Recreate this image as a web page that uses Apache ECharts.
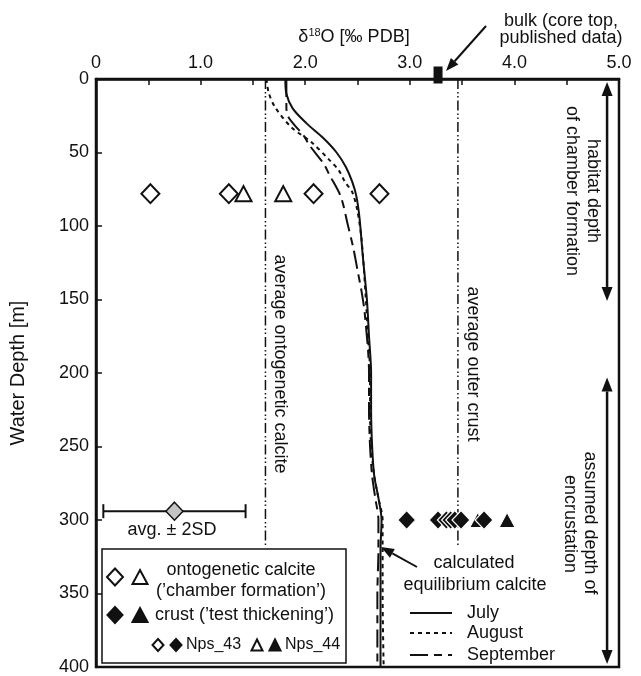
<!DOCTYPE html>
<html>
<head>
<meta charset="utf-8">
<script src="https://cdn.jsdelivr.net/npm/echarts@6/dist/echarts.min.js"></script>
<style>
  html, body { margin: 0; padding: 0; background: #fff; }
  #chart { width: 641px; height: 676px; }
</style>
</head>
<body>
<div id="chart"></div>
<script>
// calculated equilibrium calcite, depth [m] vs d18O
const julyDepth = [0, 10, 20, 30, 40, 50, 60, 70, 80, 95, 120, 150, 175, 200, 225, 250, 270, 285, 300, 320, 350, 400];
const julyValue = [1.81, 1.82, 1.88, 2.01, 2.17, 2.30, 2.39, 2.45, 2.49, 2.52, 2.55, 2.59, 2.61, 2.63, 2.63, 2.64, 2.66, 2.70, 2.73, 2.72, 2.72, 2.72];
const augDepth = [0, 9, 19, 33, 43, 55, 62, 70, 77, 90, 110, 150, 175, 200, 225, 250, 270, 285, 300, 320, 350, 400];
const augValue = [1.63, 1.65, 1.71, 1.87, 2.06, 2.23, 2.32, 2.38, 2.45, 2.50, 2.54, 2.58, 2.60, 2.62, 2.62, 2.63, 2.66, 2.70, 2.74, 2.74, 2.74, 2.75];
const sepDepth = [0, 19, 26, 39, 45, 58, 65, 80, 100, 115, 130, 145, 160, 200, 225, 250, 270, 285, 300, 320, 350, 400];
const sepValue = [1.82, 1.82, 1.84, 1.99, 2.04, 2.18, 2.23, 2.34, 2.41, 2.46, 2.50, 2.54, 2.57, 2.61, 2.61, 2.62, 2.64, 2.67, 2.70, 2.70, 2.69, 2.69];

// measured values
const ontoDepth = 78;
const ontoNps43 = [0.52, 1.27, 2.08, 2.71];
const ontoNps44 = [1.41, 1.79];
const crustDepth = 300;
const crustNps43 = [2.97, 3.27, 3.35, 3.39, 3.43, 3.49, 3.71];
const crustNps44 = [3.65, 3.93];

// averages
const ontoAvg = 1.62;
const crustAvg = 3.46;
const avgLineEnd = 317;
const errAvg = 0.75;
const err2SD = 0.68;
const errDepth = 294;
const bulkValue = 3.27;

// depth ranges (arrows at right)
const rangeX = 4.886;
const habitatRange = [2, 151];
const encrustRange = [203, 398];

const xTicks = [0, 1, 2, 3, 4, 5];

const font = 'Liberation Sans, Arial, sans-serif';
const ink = '#111';

const chart = echarts.init(document.getElementById('chart'));

function pairs(vals, depths) {
  return vals.map((v, i) => [v, depths[i]]);
}

function arrowHead(x1, y1, x2, y2, len, half) {
  const dx = x2 - x1, dy = y2 - y1;
  const l = Math.sqrt(dx * dx + dy * dy);
  const ux = dx / l, uy = dy / l;
  const bx = x2 - ux * len, by = y2 - uy * len;
  return [
    { type: 'line', shape: { x1: x1, y1: y1, x2: bx, y2: by }, style: { stroke: ink, lineWidth: 2 } },
    { type: 'polygon', shape: { points: [[x2, y2], [bx - uy * half, by + ux * half], [bx + uy * half, by - ux * half]] }, style: { fill: ink } }
  ];
}

function diamond(cx, cy, w, h, fill) {
  return { type: 'polygon', shape: { points: [[cx, cy - h / 2], [cx + w / 2, cy], [cx, cy + h / 2], [cx - w / 2, cy]] },
    style: { fill: fill, stroke: ink, lineWidth: 2 } };
}
function tri(cx, cy, w, h, fill) {
  return { type: 'polygon', shape: { points: [[cx, cy - h / 2], [cx + w / 2, cy + h / 2], [cx - w / 2, cy + h / 2]] },
    style: { fill: fill, stroke: ink, lineWidth: 2 } };
}
function txt(x, y, text, opts) {
  return Object.assign({ type: 'text', x: x, y: y,
    style: Object.assign({ text: text, font: '18px ' + font, fill: ink, textAlign: 'center', textVerticalAlign: 'middle' }, (opts && opts.style) || {}) },
    (opts && opts.el) || {});
}
function seg(x1, y1, x2, y2, dash) {
  return { type: 'line', shape: { x1: x1, y1: y1, x2: x2, y2: y2 }, style: { stroke: ink, lineWidth: 2, lineDash: dash || null } };
}

const refDash = [10, 3, 1.5, 2.5, 1.5, 3];
const augDash = [4, 4];
const sepDash = [18, 6, 8, 6];

const graphics = [
  // axis title
  { type: 'text', x: 354, y: 37, style: {
      text: '{n|δ}{s|18}{n|O [‰ PDB]}', textAlign: 'center', textVerticalAlign: 'middle',
      rich: { n: { font: '18px ' + font, fill: ink, lineHeight: 20 }, s: { font: '11px ' + font, fill: ink, verticalAlign: 'top', lineHeight: 20 } } } },
  txt(561, 21, 'bulk (core top,'),
  txt(561, 38, 'published data)'),
  ...arrowHead(486, 26, 446, 71, 13, 5),
  // rotated notes
  txt(280, 364, 'average ontogenetic calcite', { el: { rotation: -Math.PI / 2 } }),
  txt(473, 364, 'average outer crust', { el: { rotation: -Math.PI / 2 } }),
  txt(593, 191, 'habitat depth', { el: { rotation: -Math.PI / 2 } }),
  txt(572, 191, 'of chamber formation', { el: { rotation: -Math.PI / 2 } }),
  txt(590, 523, 'assumed depth of', { el: { rotation: -Math.PI / 2 } }),
  txt(570, 524, 'encrustation', { el: { rotation: -Math.PI / 2 } }),
  txt(172, 530, 'avg. ± 2SD'),
  txt(474, 563, 'calculated'),
  txt(475, 585, 'equilibrium calcite'),
  ...arrowHead(417, 567, 381, 547, 13, 5),
  // month legend
  seg(410, 613, 452, 613),
  seg(410, 633, 452, 633, augDash),
  seg(410, 655, 452, 655, sepDash),
  txt(467, 613, 'July', { style: { textAlign: 'left' } }),
  txt(467, 633, 'August', { style: { textAlign: 'left' } }),
  txt(467, 655, 'September', { style: { textAlign: 'left' } }),
  // symbol legend box
  { type: 'rect', shape: { x: 102, y: 549, width: 244, height: 114 }, style: { fill: '#fff', stroke: ink, lineWidth: 1.5 } },
  diamond(115, 577, 16, 17, '#fff'),
  tri(140, 577, 15, 14, '#fff'),
  txt(241, 570, 'ontogenetic calcite'),
  txt(241, 591, '(’chamber formation’)'),
  diamond(115, 615, 15, 16, ink),
  tri(140, 615, 15, 14, ink),
  txt(155, 615, 'crust (’test thickening’)', { style: { textAlign: 'left' } }),
  diamond(158, 645, 11, 12, '#fff'),
  diamond(176, 645, 11, 12, ink),
  txt(186, 645, 'Nps_43', { style: { textAlign: 'left', font: '16px ' + font } }),
  tri(257, 645, 11, 11, '#fff'),
  tri(275, 645, 11, 11, ink),
  txt(285, 645, 'Nps_44', { style: { textAlign: 'left', font: '16px ' + font } })
];

const option = {
  animation: false,
  backgroundColor: '#fff',
  grid: { left: 93, right: 22, top: 79, bottom: 7, show: true, borderColor: ink, borderWidth: 2.5, backgroundColor: 'transparent' },
  xAxis: {
    type: 'value', position: 'top', min: 0, max: 5, interval: 0.5,
    axisLine: { lineStyle: { color: ink, width: 2.5 } },
    axisTick: { inside: true, length: 6, lineStyle: { color: ink, width: 1.5 } },
    axisLabel: { margin: 7, color: ink, fontSize: 18, fontFamily: font, showMaxLabel: true, showMinLabel: true,
      formatter: v => xTicks.includes(v) ? (v === 0 ? '0' : v.toFixed(1)) : '' },
    splitLine: { show: false }
  },
  yAxis: {
    type: 'value', inverse: true, min: 0, max: 400, interval: 50,
    name: 'Water Depth [m]', nameLocation: 'middle', nameGap: 68,
    nameTextStyle: { color: ink, fontSize: 20, fontFamily: font },
    axisLine: { lineStyle: { color: ink, width: 2.5 } },
    axisTick: { inside: true, length: 6, lineStyle: { color: ink, width: 1.5 } },
    axisLabel: { margin: 7, color: ink, fontSize: 18, fontFamily: font },
    splitLine: { show: false }
  },
  series: [
    { type: 'line', data: [[ontoAvg, 0], [ontoAvg, avgLineEnd]], symbol: 'none', lineStyle: { color: ink, width: 1.5, type: refDash }, z: 2 },
    { type: 'line', data: [[crustAvg, 0], [crustAvg, avgLineEnd]], symbol: 'none', lineStyle: { color: ink, width: 1.5, type: refDash }, z: 2 },
    { name: 'July', type: 'line', data: pairs(julyValue, julyDepth), symbol: 'none', smooth: 0.3, lineStyle: { color: ink, width: 2 }, z: 3 },
    { name: 'August', type: 'line', data: pairs(augValue, augDepth), symbol: 'none', smooth: 0.3, lineStyle: { color: ink, width: 2, type: augDash }, z: 3 },
    { name: 'September', type: 'line', data: pairs(sepValue, sepDepth), symbol: 'none', smooth: 0.3, lineStyle: { color: ink, width: 2, type: sepDash }, z: 3 },
    { // error bar
      type: 'custom', z: 4,
      data: [[errAvg, errDepth, err2SD]],
      renderItem: function (params, api) {
        const a = api.coord([api.value(0) - api.value(2), api.value(1)]);
        const b = api.coord([api.value(0) + api.value(2), api.value(1)]);
        const st = { stroke: ink, lineWidth: 2 };
        return { type: 'group', children: [
          { type: 'line', shape: { x1: a[0], y1: a[1], x2: b[0], y2: b[1] }, style: st },
          { type: 'line', shape: { x1: a[0], y1: a[1] - 7, x2: a[0], y2: a[1] + 7 }, style: st },
          { type: 'line', shape: { x1: b[0], y1: b[1] - 7, x2: b[0], y2: b[1] + 7 }, style: st }
        ] };
      }
    },
    { type: 'scatter', data: [[errAvg, errDepth]], symbol: 'diamond', symbolSize: [17, 18],
      itemStyle: { color: '#c4c4c4', borderColor: ink, borderWidth: 1.5, opacity: 1 }, z: 5 },
    { // depth range arrows
      type: 'custom', z: 4,
      data: [[rangeX, habitatRange[0], habitatRange[1]], [rangeX, encrustRange[0], encrustRange[1]]],
      renderItem: function (params, api) {
        const p0 = api.coord([api.value(0), api.value(1)]);
        const p1 = api.coord([api.value(0), api.value(2)]);
        const h = 14, w = 5.5;
        return { type: 'group', children: [
          { type: 'line', shape: { x1: p0[0], y1: p0[1] + h, x2: p1[0], y2: p1[1] - h }, style: { stroke: ink, lineWidth: 2.5 } },
          { type: 'polygon', shape: { points: [[p0[0], p0[1]], [p0[0] - w, p0[1] + h], [p0[0] + w, p0[1] + h]] }, style: { fill: ink } },
          { type: 'polygon', shape: { points: [[p1[0], p1[1]], [p1[0] - w, p1[1] - h], [p1[0] + w, p1[1] - h]] }, style: { fill: ink } }
        ] };
      }
    },
    { type: 'scatter', data: ontoNps43.map(v => [v, ontoDepth]), symbol: 'diamond', symbolSize: [18, 19],
      itemStyle: { color: '#fff', borderColor: ink, borderWidth: 2, opacity: 1 }, z: 6 },
    { type: 'scatter', data: ontoNps44.map(v => [v, ontoDepth]), symbol: 'triangle', symbolSize: [16, 15],
      itemStyle: { color: '#fff', borderColor: ink, borderWidth: 2, opacity: 1 }, z: 6 },
    { type: 'scatter', data: crustNps44.map(v => [v, crustDepth]), symbol: 'triangle', symbolSize: [16, 15],
      itemStyle: { color: ink, borderColor: '#fff', borderWidth: 1, opacity: 1 }, z: 6 },
    { type: 'scatter', data: crustNps43.map(v => [v, crustDepth]), symbol: 'diamond', symbolSize: [18, 19],
      itemStyle: { color: ink, borderColor: '#fff', borderWidth: 1.2, opacity: 1 }, z: 7 },
    { // bulk core top
      type: 'scatter', data: [[bulkValue, 0]], symbol: 'rect', symbolSize: [9, 17], symbolOffset: [0, -4],
      clip: false, itemStyle: { color: ink, opacity: 1 }, z: 8
    }
  ],
  graphic: { elements: graphics }
};

chart.setOption(option);
</script>
</body>
</html>
